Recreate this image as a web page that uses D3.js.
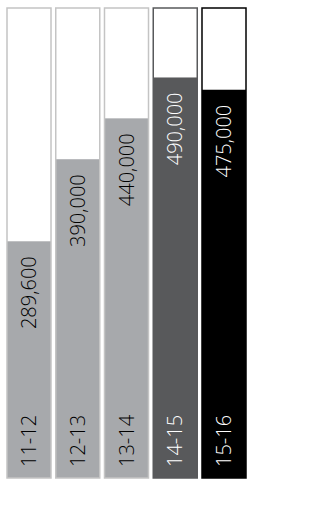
<!DOCTYPE html>
<html>
<head>
<meta charset="utf-8">
<script src="https://cdn.jsdelivr.net/npm/d3@7"></script>
<style>
  body { margin: 0; background: #fff; }
  text { font-family: "Open Sans", sans-serif; font-weight: 300; }
</style>
</head>
<body>
<div id="chart"></div>
<script>
var years = ["11-12", "12-13", "13-14", "14-15", "15-16"];
var values = [289600, 390000, 440000, 490000, 475000];
var fills = ["#a7a9ac", "#a7a9ac", "#a7a9ac", "#58595b", "#000000"];
var frames = ["#c4c4c4", "#c4c4c4", "#c4c4c4", "#58595b", "#000000"];
var inks = ["#000000", "#000000", "#000000", "#ffffff", "#ffffff"];

var w = 311,
    h = 515;

var svg = d3.select("#chart").append("svg")
    .attr("width", w)
    .attr("height", h);

var x = d3.scaleBand()
    .domain(years)
    .range([7, 246])
    .paddingInner(0.0974)
    .paddingOuter(0);

var y = d3.scaleLinear()
    .domain([0, 575000])
    .range([478, 8]);

var g = svg.selectAll("g.bar")
    .data(years)
    .enter().append("g")
    .attr("class", "bar");

// filled part
g.append("rect")
    .attr("x", function(d) { return x(d); })
    .attr("width", x.bandwidth())
    .attr("y", function(d, i) { return y(values[i]); })
    .attr("height", function(d, i) { return y(0) - y(values[i]); })
    .style("fill", function(d, i) { return fills[i]; });

// frame
g.append("rect")
    .attr("x", function(d) { return x(d); })
    .attr("width", x.bandwidth())
    .attr("y", y.range()[1])
    .attr("height", y(0) - y.range()[1])
    .style("fill", "none")
    .style("stroke", function(d, i) { return frames[i]; })
    .style("stroke-width", 1.5);

// year labels
g.append("text")
    .attr("transform", function(d) {
        return "translate(" + (x(d) + x.bandwidth() / 2) + "," + (y(0) - 11) + ") rotate(-90)";
    })
    .attr("dy", "0.36em")
    .style("font-size", "20px")
    .style("fill", function(d, i) { return inks[i]; })
    .text(function(d) { return d; });

// value labels
g.append("text")
    .attr("transform", function(d, i) {
        return "translate(" + (x(d) + x.bandwidth() / 2) + "," + (y(values[i]) + 15) + ") rotate(-90)";
    })
    .attr("dy", "0.36em")
    .attr("text-anchor", "end")
    .style("font-size", "20px")
    .style("fill", function(d, i) { return inks[i]; })
    .text(function(d, i) { return d3.format(",")(values[i]); });
</script>
</body>
</html>
